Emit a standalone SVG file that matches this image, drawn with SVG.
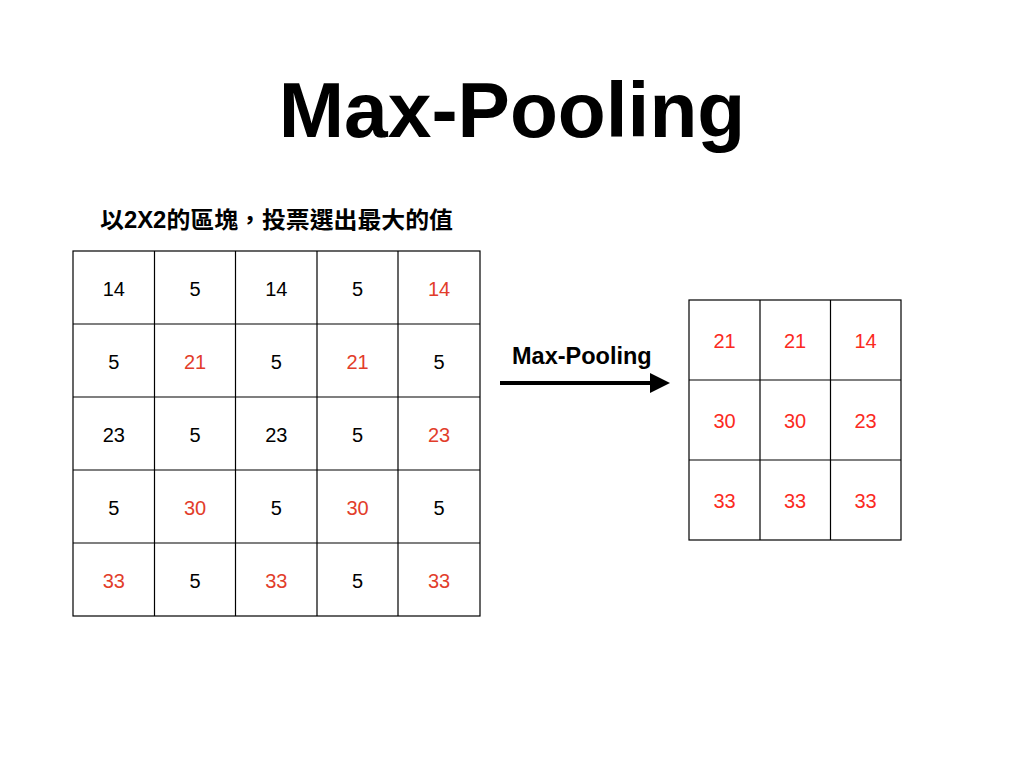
<svg xmlns="http://www.w3.org/2000/svg" width="1024" height="768" viewBox="0 0 1024 768">
<style>
.t{font-family:"Liberation Sans",Arial,sans-serif;}
.n{font-family:"Liberation Sans",Arial,sans-serif;font-size:20px;text-anchor:middle;fill:#000;}
.rl{fill:#e23d2a;}
.rr{fill:#fb2a1e;}
.g{fill:none;stroke:#000;stroke-width:1.2;}
</style>
<defs>
<marker id="ah" markerWidth="5" markerHeight="5" refX="0" refY="2.5" orient="auto" markerUnits="strokeWidth">
<path d="M0,0 L5,2.5 L0,5 Z" fill="#000"/>
</marker>
</defs>
<rect width="1024" height="768" fill="#fff"/>
<text id="title" class="t" x="512" y="137" font-size="78.5" font-weight="bold" text-anchor="middle">Max-Pooling</text>
<text id="subtitle" x="100" y="228" font-size="23" font-weight="bold" textLength="353" lengthAdjust="spacingAndGlyphs" style="font-family:'Liberation Sans','Noto Sans CJK TC',sans-serif">以2X2的區塊，投票選出最大的值</text>

<g id="input-grid">
<rect class="g" x="73" y="251" width="407" height="365"/>
<path class="g" d="M154.5,251V616M235.5,251V616M317,251V616M398,251V616M73,324H480M73,397H480M73,470H480M73,543H480"/>
<text class="n" x="113.75" y="296">14</text>
<text class="n" x="195" y="296">5</text>
<text class="n" x="276.25" y="296">14</text>
<text class="n" x="357.5" y="296">5</text>
<text class="n rl" x="439" y="296">14</text>
<text class="n" x="113.75" y="369">5</text>
<text class="n rl" x="195" y="369">21</text>
<text class="n" x="276.25" y="369">5</text>
<text class="n rl" x="357.5" y="369">21</text>
<text class="n" x="439" y="369">5</text>
<text class="n" x="113.75" y="442">23</text>
<text class="n" x="195" y="442">5</text>
<text class="n" x="276.25" y="442">23</text>
<text class="n" x="357.5" y="442">5</text>
<text class="n rl" x="439" y="442">23</text>
<text class="n" x="113.75" y="515">5</text>
<text class="n rl" x="195" y="515">30</text>
<text class="n" x="276.25" y="515">5</text>
<text class="n rl" x="357.5" y="515">30</text>
<text class="n" x="439" y="515">5</text>
<text class="n rl" x="113.75" y="588">33</text>
<text class="n" x="195" y="588">5</text>
<text class="n rl" x="276.25" y="588">33</text>
<text class="n" x="357.5" y="588">5</text>
<text class="n rl" x="439" y="588">33</text>
</g>

<g id="connectors">
<line x1="500" y1="383" x2="650" y2="383" stroke="#000" stroke-width="4" marker-end="url(#ah)"/>
<text class="t" x="512" y="364" font-size="23.5" font-weight="bold">Max-Pooling</text>
</g>

<g id="output-grid">
<rect class="g" x="689" y="300" width="212" height="240"/>
<path class="g" d="M760,300V540M830.5,300V540M689,380H901M689,460H901"/>
<text class="n rr" x="724.5" y="348">21</text>
<text class="n rr" x="795" y="348">21</text>
<text class="n rr" x="865.5" y="348">14</text>
<text class="n rr" x="724.5" y="428">30</text>
<text class="n rr" x="795" y="428">30</text>
<text class="n rr" x="865.5" y="428">23</text>
<text class="n rr" x="724.5" y="508">33</text>
<text class="n rr" x="795" y="508">33</text>
<text class="n rr" x="865.5" y="508">33</text>
</g>
</svg>
